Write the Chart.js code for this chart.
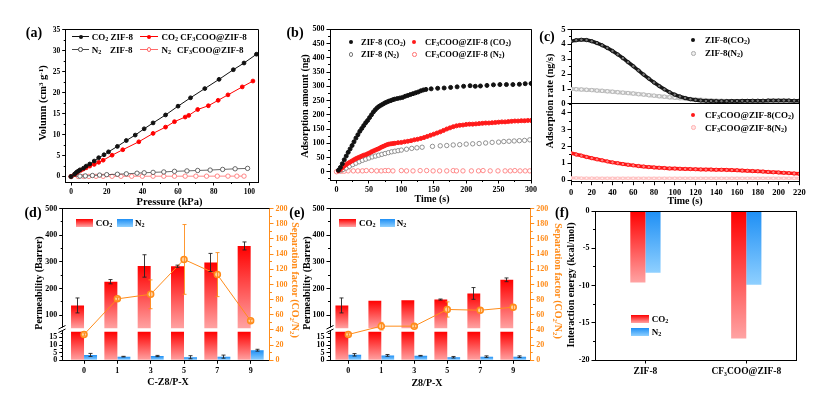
<!DOCTYPE html>
<html>
<head>
<meta charset="utf-8">
<script src="https://cdn.jsdelivr.net/npm/chart.js@4.4.1/dist/chart.umd.min.js"></script>
<style>
html,body{margin:0;padding:0;background:#fff;}
#wrap{position:relative;width:836px;height:393px;overflow:hidden;background:#fff;font-family:'Liberation Serif','Times New Roman',serif;font-weight:bold;color:#000;}
#wrap canvas{position:absolute;left:0;top:0;}
.t{position:absolute;white-space:nowrap;line-height:1;}
.t sub{font-size:0.68em;vertical-align:-0.28em;line-height:0;}
.t sup{font-size:0.68em;vertical-align:0.45em;line-height:0;}
.m{position:absolute;box-sizing:border-box;}
</style>
</head>
<body>
<div id="wrap"></div>
<script>
// ---------------- DATA ----------------
// (a) isotherms
const aPresCO2ZIF = [0, 2, 3, 4, 5, 7, 8.5, 10.5, 13, 15.5, 18.5, 21, 26, 31, 36, 41, 46, 53, 60, 67, 75, 83, 91, 97, 104];
const aVolCO2ZIF  = [0, 0.6, 1.0, 1.3, 1.6, 2.0, 2.5, 3.0, 3.7, 4.5, 5.2, 5.9, 7.2, 8.6, 9.9, 11.4, 12.8, 14.7, 16.8, 18.8, 21.0, 23.2, 25.5, 27.1, 29.2];
const aPresCO2CF  = [0, 2, 3, 4, 5.5, 7, 8.5, 10.5, 13, 15.5, 18, 23, 29, 38, 46, 53, 58, 64, 66, 71, 77, 82.5, 88, 96, 102];
const aVolCO2CF   = [0, 0.5, 0.9, 1.2, 1.5, 1.8, 2.1, 2.5, 2.9, 3.4, 3.9, 5.1, 6.4, 8.3, 10.3, 11.8, 13.1, 14.2, 14.6, 16.0, 16.9, 18.2, 19.5, 21.4, 22.8];
const aPresN2ZIF  = [0, 5, 8, 12, 16, 20, 26, 31, 37, 41, 46, 52, 58, 65, 71, 78, 85, 92, 99];
const aVolN2ZIF   = [0, 0.1, 0.15, 0.25, 0.35, 0.45, 0.55, 0.65, 0.8, 0.9, 1.0, 1.1, 1.25, 1.35, 1.45, 1.55, 1.7, 1.85, 1.95];
const aPresN2CF   = [0, 4, 7, 10, 14, 18, 23, 28, 34, 40, 46, 52, 58, 64, 70, 76, 82, 88, 93, 97];
const aVolN2CF    = [0, 0.02, 0.03, 0.04, 0.05, 0.05, 0.06, 0.06, 0.07, 0.07, 0.08, 0.08, 0.08, 0.09, 0.09, 0.09, 0.1, 0.1, 0.1, 0.1];

// (b) adsorption amount
const bTimeCO2ZIF = [3,6,9,12,15,18,21,24,27,30,33,36,39,42,45,48,51,54,57,60,63,66,69,72,75,78,81,84,87,90,94,98,102,106,110,114,118,122,126,130,134,138,146,156,166,176,186,196,206,214,222,232,242,252,262,272,282,291,300];
const bCO2ZIF     = [5,15,28,42,55,68,80,92,105,118,130,142,152,162,172,180,190,200,210,218,225,230,234,238,242,245,248,250,253,255,257,259,261,265,268,271,274,277,280,284,287,289,291,293,294,296,298,300,302,300,301,303,305,306,306,306,307,309,310];
const bTimeCO2CF  = [3,6,9,12,15,18,21,24,27,30,33,36,39,42,45,48,51,54,57,60,63,66,69,72,75,78,81,84,87,90,95,100,105,110,115,120,125,130,135,140,145,150,155,160,165,170,175,180,185,190,195,200,205,210,215,220,225,230,235,240,245,250,255,260,265,270,275,280,285,290,295,300];
const bCO2CF      = [3,8,14,20,25,30,34,38,42,46,49,52,55,58,60,63,66,70,73,76,79,82,86,89,92,95,97,98,99,100,102,103,105,107,109,112,114,117,120,124,128,132,136,140,145,150,154,158,161,163,164,166,167,167,168,169,170,171,171,172,173,174,175,175,176,177,178,178,179,179,180,180];
const bTimeN2ZIF  = [5,10,15,20,25,30,35,40,45,50,55,60,65,70,75,80,85,90,95,100,108,116,124,132,148,160,170,180,190,200,210,220,230,240,250,258,266,274,282,290,298];
const bN2ZIF      = [3,8,13,19,25,30,35,40,44,48,52,55,58,61,64,67,70,72,74,76,79,82,84,86,89,91,92,94,95,97,98,99,101,103,104,106,107,108,109,110,112];
const bTimeN2CF   = [0,8,12,18,26,33,40,46,54,62,69,75,80,87,100,108,118,129,139,149,159,170,180,185,195,208,219,226,237,249,260,268,275,283,291,298];
const bN2CF       = [0,2,2,3,3,3,3,4,4,3,3,4,4,3,4,3,3,4,4,3,3,3,4,3,3,3,3,4,3,3,3,3,4,3,3,3];

// (c) adsorption rate
const cTime   = [0,5,10,15,20,25,30,35,40,45,50,55,60,65,70,75,80,85,90,95,100,105,110,115,120,125,130,135,140,145,150,155,160,165,170,175,180,185,190,195,200,205,210,215,220];
const cCO2ZIF = [4.20,4.27,4.30,4.28,4.20,4.08,3.93,3.75,3.55,3.32,3.07,2.80,2.53,2.25,1.97,1.70,1.44,1.20,0.98,0.79,0.63,0.50,0.40,0.32,0.27,0.23,0.21,0.20,0.19,0.19,0.19,0.20,0.20,0.21,0.21,0.22,0.22,0.22,0.23,0.23,0.23,0.23,0.23,0.22,0.22];
const cN2ZIF  = [1.00,0.99,0.97,0.95,0.93,0.90,0.88,0.85,0.82,0.79,0.76,0.73,0.70,0.66,0.63,0.59,0.56,0.52,0.49,0.45,0.42,0.39,0.36,0.33,0.30,0.28,0.26,0.24,0.22,0.21,0.20,0.19,0.18,0.17,0.17,0.16,0.15,0.15,0.14,0.14,0.13,0.13,0.12,0.12,0.12];
const cCO2CF  = [1.60,1.52,1.45,1.37,1.30,1.23,1.17,1.11,1.05,1.00,0.95,0.91,0.87,0.83,0.80,0.77,0.75,0.73,0.71,0.69,0.68,0.67,0.66,0.65,0.64,0.63,0.62,0.62,0.61,0.61,0.60,0.59,0.58,0.56,0.55,0.53,0.52,0.50,0.48,0.46,0.45,0.43,0.41,0.39,0.37];
const cN2CF   = [0.12,0.12,0.11,0.11,0.11,0.11,0.10,0.10,0.10,0.10,0.10,0.10,0.10,0.10,0.10,0.10,0.10,0.10,0.10,0.10,0.10,0.10,0.10,0.10,0.10,0.10,0.10,0.10,0.10,0.10,0.10,0.10,0.10,0.10,0.10,0.10,0.10,0.10,0.10,0.10,0.10,0.10,0.10,0.10,0.10];

// (d) C-Z8/P-X membranes
const dCats   = ['0','1','3','5','7','9'];
const dCO2    = [137, 226, 285, 284, 298, 360];
const dCO2Err = [28, 8, 42, 4, 34, 15];
const dN2     = [3.5, 2.4, 2.8, 2.0, 2.4, 6.6];
const dN2Err  = [1.0, 0.2, 0.4, 1.0, 1.0, 0.6];
const dSep    = [34, 81, 87, 133, 113, 52];
const dSepErr = [2, 2, 19, 46, 29, 2];

// (e) Z8/P-X membranes
const eCats   = ['0','1','3','5','7','9'];
const eCO2    = [137, 155, 156, 159, 182, 233];
const eCO2Err = [28, 0, 0, 2, 22, 7];
const eN2     = [3.6, 3.2, 3.0, 2.0, 2.4, 2.4];
const eN2Err  = [0.8, 0.6, 0.2, 0.5, 0.5, 0.5];
const eSep    = [34, 45, 45, 67, 66, 70];
const eSepErr = [2, 5, 2, 10, 3, 3];

// (f) interaction energy
const fCats = ['ZIF-8', 'CF\u2083COO@ZIF-8'];
const fCO2  = [-9.6, -17.1];
const fN2   = [-8.3, -9.9];
const fTicks = [0, -5, -10, -15, -20];

// ---------------- HELPERS ----------------
const FONT = "'Liberation Serif','Times New Roman',serif";
const PW = 836, PH = 393;
const ORANGE = '#ff8c1a';
const RED0 = '#ff0000', RED1 = '#ffa3a3', BLU0 = '#1e8ff5', BLU1 = '#8fd0ff';
const wrap = document.getElementById('wrap');
Chart.defaults.font.family = FONT;

function newCanvas() {
  const c = document.createElement('canvas');
  c.width = PW; c.height = PH; c.style.width = PW + 'px'; c.style.height = PH + 'px';
  wrap.appendChild(c); return c;
}
const xy = (xs, ys) => ys.map((y, i) => ({x: xs[i], y}));
function fix(size) { return s => { if (s.isHorizontal()) s.height = size; else s.width = size; }; }
function axis(o) {
  const col = o.color || '#000';
  const a = {
    type: o.type || 'linear', position: o.pos, offset: !!o.offset, display: true,
    afterFit: fix(o.fit),
    border: {display: true, color: col, width: 1},
    grid: {display: true, drawOnChartArea: false, drawTicks: true, tickLength: 3.5, tickColor: col, tickWidth: 1, offset: false},
    ticks: {display: true, autoSkip: false, maxRotation: 0, minRotation: 0, padding: 2, color: col,
            font: {family: FONT, size: o.fs, weight: 'bold'}}
  };
  if (a.type === 'linear') {
    a.min = o.min; a.max = o.max; a.beginAtZero = false;
    a.ticks.stepSize = o.step; a.ticks.includeBounds = false;
    a.ticks.callback = o.cb || (v => String(v));
  }
  if (o.stack) { a.stack = o.stack; a.stackWeight = o.sw; a.weight = o.weight; }
  if (o.ySt) a.stacked = false;
  if (o.keep !== undefined) a.afterBuildTicks = s => { s.ticks = s.ticks.filter(t => t.value <= o.keep); };
  if (o.fixedTicks) a.afterBuildTicks = s => { s.ticks = o.fixedTicks.map(v => ({value: v})); };
  return a;
}
function baseOpts(pad, scales) {
  return {
    responsive: false, animation: false, devicePixelRatio: 1, events: [],
    layout: {padding: pad, autoPadding: false},
    plugins: {legend: {display: false}, tooltip: {enabled: false}},
    scales
  };
}
const al = (p, w) => Math.round(p - w / 2) + w / 2;
function frame(o) {
  return {id: 'frame', afterDraw(chart) {
    const ctx = chart.ctx, a = chart.chartArea;
    ctx.save(); ctx.lineWidth = 1; ctx.strokeStyle = '#000';
    ctx.beginPath();
    const t = al(a.top, 1);
    ctx.moveTo(al(a.left, 1), t); ctx.lineTo(al(a.right, 1), t);
    if (o.right) { const r = al(a.right, 1); ctx.moveTo(r, a.top); ctx.lineTo(r, a.bottom); }
    if (o.split) { const y = al(chart.scales[o.split].bottom, 1); ctx.moveTo(a.left, y); ctx.lineTo(a.right, y); }
    ctx.stroke();
    if (o.brk) {
      const y = chart.scales[o.brk].bottom, x = al(a.left, 1);
      ctx.fillStyle = '#fff'; ctx.fillRect(x - 5, y - 1, 9, 3.5);
      ctx.beginPath();
      ctx.moveTo(x - 4, y + 0.5); ctx.lineTo(x + 3, y - 3);
      ctx.moveTo(x - 4, y + 4); ctx.lineTo(x + 3, y + 0.5);
      ctx.stroke();
    }
    ctx.restore();
  }};
}
function minor(specs) {
  return {id: 'minorTicks', afterDraw(chart) {
    const ctx = chart.ctx; ctx.save(); ctx.lineWidth = 1;
    specs.forEach(sp => {
      const s = chart.scales[sp.id]; const len = sp.len || 2;
      ctx.strokeStyle = sp.color || '#000'; ctx.beginPath();
      const start = Math.ceil((s.min - 1e-9) / sp.step);
      for (let k = start; k * sp.step <= s.max + 1e-9; k++) {
        const v = k * sp.step;
        if (sp.maxV !== undefined && v > sp.maxV) break;
        const p = al(s.getPixelForValue(v), 1);
        if (s.isHorizontal()) { ctx.moveTo(p, s.top); ctx.lineTo(p, s.top + len); }
        else if (s.position === 'left') { ctx.moveTo(s.right, p); ctx.lineTo(s.right - len, p); }
        else { ctx.moveTo(s.left, p); ctx.lineTo(s.left + len, p); }
      }
      ctx.stroke();
    });
    ctx.restore();
  }};
}
const segClip = {
  id: 'segClip',
  beforeDatasetDraw(chart, args) {
    const ds = chart.data.datasets[args.index];
    if (!ds.clipScale) return;
    const s = chart.scales[ds.clipScale], a = chart.chartArea, g = ds.clipGap || 0;
    const ctx = chart.ctx; ctx.save(); ctx.beginPath();
    ctx.rect(a.left, s.top + g, a.right - a.left, s.bottom - s.top - g); ctx.clip();
  },
  afterDatasetDraw(chart, args) {
    const ds = chart.data.datasets[args.index];
    if (ds.clipScale) chart.ctx.restore();
  }
};
const errBars = {
  id: 'errBars',
  afterDatasetsDraw(chart) {
    const ctx = chart.ctx;
    chart.data.datasets.forEach((ds, di) => {
      if (!ds.errs) return;
      const meta = chart.getDatasetMeta(di); const s = chart.scales[meta.yAxisID];
      ctx.save(); ctx.strokeStyle = ds.errColor || '#000'; ctx.lineWidth = 0.9;
      meta.data.forEach((elm, i) => {
        const e = ds.errs[i]; if (!e) return;
        const v = ds.data[i].y;
        const clampY = p => Math.max(s.top, Math.min(s.bottom, p));
        const y1 = clampY(s.getPixelForValue(v + e)), y2 = clampY(s.getPixelForValue(v - e));
        const x = al(elm.x, 1), c = 2;
        ctx.beginPath();
        ctx.moveTo(x, y1); ctx.lineTo(x, y2);
        ctx.moveTo(x - c, y1); ctx.lineTo(x + c, y1);
        ctx.moveTo(x - c, y2); ctx.lineTo(x + c, y2);
        ctx.stroke();
      });
      ctx.restore();
    });
  }
};
function grad(c0, c1, gap) {
  return (c) => {
    const chart = c.chart;
    if (c.type !== 'data' || !chart.chartArea) return c0;
    const meta = chart.getDatasetMeta(c.datasetIndex);
    const s = chart.scales[meta.yAxisID];
    if (!s) return c0;
    const v = (c.raw && typeof c.raw === 'object') ? c.raw.y : c.raw;
    const p = s.getPixelForValue(v), b = s.getBasePixel();
    const top = Math.max(Math.min(p, b), s.top + (gap || 0));
    const bot = Math.min(Math.max(p, b), s.bottom);
    if (!(bot > top) || !isFinite(top) || !isFinite(bot)) return c0;
    const g = chart.ctx.createLinearGradient(0, top, 0, bot);
    g.addColorStop(0, c0); g.addColorStop(1, c1);
    return g;
  };
}

// HTML overlay helpers
function el(css) { const d = document.createElement('div'); d.className = 'm'; Object.assign(d.style, css); wrap.appendChild(d); return d; }
function hline(x1, x2, y, color, w) { el({left: x1 + 'px', top: (y - w / 2) + 'px', width: (x2 - x1) + 'px', height: w + 'px', background: color}); }
function dot(x, y, r, fill, stroke, bw) {
  el({left: (x - r) + 'px', top: (y - r) + 'px', width: 2 * r + 'px', height: 2 * r + 'px', borderRadius: '50%',
      background: fill, border: stroke ? `${bw || 0.8}px solid ${stroke}` : 'none'});
}
function swatch(x1, y1, x2, y2, c0, c1) {
  el({left: x1 + 'px', top: y1 + 'px', width: (x2 - x1) + 'px', height: (y2 - y1) + 'px', background: `linear-gradient(${c0}, ${c1})`});
}
function txt(x, y, html, size, o = {}) {
  const d = document.createElement('div'); d.className = 't'; d.innerHTML = html;
  d.style.left = x + 'px'; d.style.top = y + 'px'; d.style.fontSize = size + 'px';
  if (o.color) d.style.color = o.color;
  const ax = o.align === 'left' ? '0' : '-50%';
  d.style.transform = `translate(${ax},-50%)` + (o.rot ? ` rotate(${o.rot}deg)` : '');
  wrap.appendChild(d);
}

// ---------------- (a) ----------------
new Chart(newCanvas(), {
  type: 'line',
  data: {datasets: [
    {label: 'N2 CF3COO@ZIF-8', data: xy(aPresN2CF, aVolN2CF), borderColor: '#ff6a6a', borderWidth: 0.8, pointRadius: 2.2, pointBackgroundColor: '#fff', pointBorderColor: '#ff6a6a', pointBorderWidth: 0.8, order: 4},
    {label: 'N2 ZIF-8', data: xy(aPresN2ZIF, aVolN2ZIF), borderColor: '#444', borderWidth: 0.8, pointRadius: 2.2, pointBackgroundColor: '#fff', pointBorderColor: '#444', pointBorderWidth: 0.8, order: 3},
    {label: 'CO2 CF3COO@ZIF-8', data: xy(aPresCO2CF, aVolCO2CF), borderColor: '#ff0000', borderWidth: 1, pointRadius: 1.9, pointBackgroundColor: '#ff0000', pointBorderColor: '#ff0000', order: 2},
    {label: 'CO2 ZIF-8', data: xy(aPresCO2ZIF, aVolCO2ZIF), borderColor: '#111', borderWidth: 1, pointRadius: 1.9, pointBackgroundColor: '#111', pointBorderColor: '#111', order: 1}
  ]},
  options: baseOpts({left: 43.7, top: 29.5, right: 577, bottom: 197}, {
    x: axis({pos: 'bottom', min: -3, max: 105.4, step: 20, fs: 7.5, fit: 14}),
    y: axis({pos: 'left', min: -1.3, max: 35.1, step: 5, fs: 7.5, fit: 22, ySt: true})
  }),
  plugins: [frame({right: true}), minor([{id: 'x', step: 10}, {id: 'y', step: 2.5}])]
});

// ---------------- (b) ----------------
new Chart(newCanvas(), {
  type: 'line',
  data: {datasets: [
    {label: 'CF3COO@ZIF-8 (N2)', data: xy(bTimeN2CF, bN2CF), showLine: false, pointRadius: 2.2, pointBackgroundColor: '#fff', pointBorderColor: '#ff7070', pointBorderWidth: 0.8, order: 4},
    {label: 'ZIF-8 (N2)', data: xy(bTimeN2ZIF, bN2ZIF), showLine: false, pointRadius: 2.2, pointBackgroundColor: '#fff', pointBorderColor: '#777', pointBorderWidth: 0.8, order: 3},
    {label: 'CF3COO@ZIF-8 (CO2)', data: xy(bTimeCO2CF, bCO2CF), showLine: false, pointRadius: 2, pointBackgroundColor: '#ff1a1a', pointBorderColor: '#ff1a1a', order: 2},
    {label: 'ZIF-8 (CO2)', data: xy(bTimeCO2ZIF, bCO2ZIF), showLine: false, pointRadius: 2, pointBackgroundColor: '#111', pointBorderColor: '#111', order: 1}
  ]},
  options: baseOpts({left: 308, top: 29.3, right: 304.3, bottom: 199}, {
    x: axis({pos: 'bottom', min: -10, max: 301, step: 50, fs: 8, fit: 14}),
    y: axis({pos: 'left', min: -29, max: 500, step: 50, fs: 8, fit: 22, ySt: true})
  }),
  plugins: [frame({right: true}), minor([{id: 'x', step: 25}, {id: 'y', step: 25}])]
});

// ---------------- (c) ----------------
new Chart(newCanvas(), {
  type: 'line',
  data: {datasets: [
    {label: 'ZIF-8(N2)', data: xy(cTime, cN2ZIF), yAxisID: 'yU', borderColor: '#c9c9c9', borderWidth: 4, pointRadius: 1.8, pointBackgroundColor: '#f2f2f2', pointBorderColor: '#a8a8a8', pointBorderWidth: 0.7, cubicInterpolationMode: 'monotone', order: 2},
    {label: 'ZIF-8(CO2)', data: xy(cTime, cCO2ZIF), yAxisID: 'yU', borderColor: '#1a1a1a', borderWidth: 3.5, pointRadius: 1.7, pointBackgroundColor: '#777', pointBorderColor: '#000', pointBorderWidth: 0.7, cubicInterpolationMode: 'monotone', order: 1},
    {label: 'CF3COO@ZIF-8(N2)', data: xy(cTime, cN2CF), yAxisID: 'yL', borderColor: '#ffc4c4', borderWidth: 3, pointRadius: 1.4, pointBackgroundColor: '#fff0f0', pointBorderColor: '#ffb0b0', pointBorderWidth: 0.6, cubicInterpolationMode: 'monotone', order: 4},
    {label: 'CF3COO@ZIF-8(CO2)', data: xy(cTime, cCO2CF), yAxisID: 'yL', borderColor: '#ff1a1a', borderWidth: 3.5, pointRadius: 1.7, pointBackgroundColor: '#ff8080', pointBorderColor: '#ff0000', pointBorderWidth: 0.7, cubicInterpolationMode: 'monotone', order: 3}
  ]},
  options: baseOpts({left: 549, top: 29.3, right: 36.7, bottom: 197.3}, {
    x: axis({pos: 'bottom', min: 0, max: 220, step: 20, fs: 8.5, fit: 14}),
    yU: axis({pos: 'left', min: 0, max: 5, step: 1, fs: 8.5, fit: 22, ySt: true, stack: 'c', sw: 74.7, weight: 1}),
    yL: axis({pos: 'left', min: -0.1, max: 4.52, step: 1, fs: 8.5, fit: 22, ySt: true, stack: 'c', sw: 77.7, weight: 0})
  }),
  plugins: [frame({right: true, split: 'yU'}), minor([{id: 'x', step: 10}, {id: 'yU', step: 0.5}, {id: 'yL', step: 0.5}])]
});

// ---------------- (d) & (e) ----------------
const GAP = 3.2;
function permChart(cats, co2, co2Err, n2, n2Err, sep, sepErr, left, right, xmin, xmax) {
  const pos = cats.map((c, i) => i);
  const barCommon = {barPercentage: 1, categoryPercentage: 0.78, borderWidth: 0};
  new Chart(newCanvas(), {
    type: 'bar',
    data: {datasets: [
      Object.assign({label: 'Separation factor', type: 'line', data: xy(pos, sep), yAxisID: 'yR', order: 0,
        borderColor: ORANGE, borderWidth: 1, pointRadius: 3, pointBackgroundColor: '#ffcf9c', pointBorderColor: ORANGE, pointBorderWidth: 1.5,
        errs: sepErr, errColor: ORANGE}),
      Object.assign({label: 'CO2', data: xy(pos, co2), yAxisID: 'yH', stack: 'co2', order: 2,
        backgroundColor: grad(RED0, RED1, 0), errs: co2Err, errColor: '#222', clipScale: 'yH', clipGap: 0}, barCommon),
      Object.assign({label: 'CO2 (axis break)', data: xy(pos, co2), yAxisID: 'yL', stack: 'co2', order: 2,
        backgroundColor: grad(RED0, RED1, GAP), clipScale: 'yL', clipGap: GAP}, barCommon),
      Object.assign({label: 'N2', data: xy(pos, n2), yAxisID: 'yL', stack: 'n2', order: 3,
        backgroundColor: grad(BLU0, BLU1, 0), errs: n2Err, errColor: '#222'}, barCommon)
    ]},
    options: baseOpts({left: left - 22, top: 208.6, right: PW - right - 22, bottom: 18.7}, {
      x: axis({pos: 'bottom', min: xmin, max: xmax, step: 1, fs: 8, fit: 14, cb: v => cats[v] !== undefined ? cats[v] : ''}),
      yH: axis({pos: 'left', min: 50.5, max: 500, step: 100, fs: 8, fit: 22, ySt: true, stack: 'p', sw: 119.9, weight: 1}),
      yL: axis({pos: 'left', min: 0, max: 20.8, step: 5, fs: 8, fit: 22, ySt: true, stack: 'p', sw: 31.8, weight: 0, keep: 15}),
      yR: axis({pos: 'right', min: 0, max: 200, step: 20, fs: 8, fit: 22, ySt: true, color: ORANGE})
    }),
    plugins: [segClip, errBars, frame({brk: 'yH'}),
      minor([{id: 'yH', step: 50}, {id: 'yL', step: 2.5, maxV: 17.5}, {id: 'yR', step: 10, color: ORANGE}])]
  });
}
permChart(dCats, dCO2, dCO2Err, dN2, dN2Err, dSep, dSepErr, 62.7, 270, -0.64, 5.58);
permChart(eCats, eCO2, eCO2Err, eN2, eN2Err, eSep, eSepErr, 330, 530.7, -0.555, 5.53);

// ---------------- (f) ----------------
new Chart(newCanvas(), {
  type: 'bar',
  data: {labels: fCats, datasets: [
    {label: 'CO2', data: fCO2, yAxisID: 'yF', backgroundColor: grad(RED0, RED1, 0), barPercentage: 1, categoryPercentage: 0.3, borderWidth: 0},
    {label: 'N2', data: fN2, yAxisID: 'yF', backgroundColor: grad(BLU0, BLU1, 0), barPercentage: 1, categoryPercentage: 0.3, borderWidth: 0}
  ]},
  options: baseOpts({left: 595 - 22, top: 211, right: PW - 796.7, bottom: 393 - 360 - 16}, {
    x: axis({type: 'category', pos: 'bottom', offset: true, fs: 9.5, fit: 16}),
    yF: Object.assign(axis({pos: 'left', min: -20, max: 0, step: 5, fs: 8, fit: 22, ySt: true, fixedTicks: fTicks}), {axis: 'y'})
  }),
  plugins: [frame({right: true}), minor([{id: 'yF', step: 2.5}])]
});

// ---------------- TEXT OVERLAYS ----------------
const LEFT = {align: 'left'};
// panel labels
txt(34, 33, '(a)', 14); txt(295, 33, '(b)', 14); txt(547, 37, '(c)', 14);
txt(33, 213, '(d)', 14); txt(297, 213, '(e)', 14); txt(562, 213, '(f)', 14);

// (a) titles + legend
txt(43.3, 103, 'Volumn (cm<sup>3</sup> g<sup>-1</sup>)', 10.5, {rot: -90});
txt(169.5, 201.5, 'Pressure (kPa)', 10.5);
hline(72, 89, 36.7, '#111', 1); dot(80.5, 36.7, 2, '#111');
txt(91.7, 36.7, 'CO<sub>2</sub> ZIF-8', 9, LEFT);
hline(140, 158, 36.7, '#ff0000', 1); dot(149, 36.7, 2, '#ff0000');
txt(161.5, 36.7, 'CO<sub>2</sub> CF<sub>3</sub>COO@ZIF-8', 9, LEFT);
hline(72, 89, 49.5, '#444', 0.8); dot(80.5, 49.5, 2.3, '#fff', '#444');
txt(91.7, 49.5, 'N<sub>2</sub>', 9, LEFT); txt(110, 49.5, 'ZIF-8', 9, LEFT);
hline(140, 158, 49.5, '#ff6a6a', 0.8); dot(149, 49.5, 2.3, '#fff', '#ff6a6a');
txt(161.5, 49.5, 'N<sub>2</sub>', 9, LEFT); txt(177, 49.5, 'CF<sub>3</sub>COO@ZIF-8', 9, LEFT);

// (b)
txt(305, 106, 'Adsorption amount (ng)', 10, {rot: -90});
txt(432, 198.5, 'Time (s)', 10);
dot(351, 41.7, 2, '#111'); txt(361, 41.7, 'ZIF-8 (CO<sub>2</sub>)', 8.5, LEFT);
dot(414.3, 41.7, 2, '#ff1a1a'); txt(425, 41.7, 'CF<sub>3</sub>COO@ZIF-8 (CO<sub>2</sub>)', 8.5, LEFT);
dot(351, 54.3, 2.3, '#fff', '#777'); txt(361, 54.3, 'ZIF-8 (N<sub>2</sub>)', 8.5, LEFT);
dot(414.3, 54.3, 2.3, '#fff', '#ff7070'); txt(425, 54.3, 'CF<sub>3</sub>COO@ZIF-8 (N<sub>2</sub>)', 8.5, LEFT);

// (c)
txt(549.5, 101, 'Adsorption rate (ng/s)', 10, {rot: -90});
txt(685, 200.5, 'Time (s)', 10);
dot(693.3, 40, 2, '#111'); txt(705, 40, 'ZIF-8(CO<sub>2</sub>)', 9, LEFT);
dot(693.3, 53.3, 2.3, '#eee', '#aaa'); txt(705, 53.3, 'ZIF-8(N<sub>2</sub>)', 9, LEFT);
dot(693.3, 115, 2, '#ff1a1a'); txt(705, 115, 'CF<sub>3</sub>COO@ZIF-8(CO<sub>2</sub>)', 9, LEFT);
dot(693.3, 127.7, 2.3, '#ffe4e4', '#ffb0b0'); txt(705, 127.7, 'CF<sub>3</sub>COO@ZIF-8(N<sub>2</sub>)', 9, LEFT);

// (d)
txt(39, 283, 'Permeability (Barrer)', 10, {rot: -90});
txt(295, 280, 'Separation factor (CO<sub>2</sub>/N<sub>2</sub>)', 10, {rot: 90, color: ORANGE});
txt(168, 382, 'C-Z8/P-X', 10);
swatch(76, 219.3, 93.3, 226.7, RED0, RED1); txt(95.7, 223, 'CO<sub>2</sub>', 9, LEFT);
swatch(117.3, 219.3, 132.7, 226.7, BLU0, BLU1); txt(135, 223, 'N<sub>2</sub>', 9, LEFT);

// (e)
txt(307, 283, 'Permeability (Barrer)', 10, {rot: -90});
txt(557.5, 281, 'Separation factor (CO<sub>2</sub>/N<sub>2</sub>)', 10, {rot: 90, color: ORANGE});
txt(427, 383, 'Z8/P-X', 10);
swatch(339.3, 219.3, 356, 226.7, RED0, RED1); txt(359, 223, 'CO<sub>2</sub>', 9, LEFT);
swatch(380, 219.3, 395, 226.7, BLU0, BLU1); txt(396.7, 223, 'N<sub>2</sub>', 9, LEFT);

// (f)
txt(571, 285, 'Interaction energy (kcal/mol)', 10, {rot: -90});
swatch(630.7, 315, 649.3, 323.3, RED0, RED1); txt(651.7, 319, 'CO<sub>2</sub>', 9, LEFT);
swatch(630.7, 327.7, 649.3, 336, BLU0, BLU1); txt(651.7, 332, 'N<sub>2</sub>', 9, LEFT);
</script>
</body>
</html>
